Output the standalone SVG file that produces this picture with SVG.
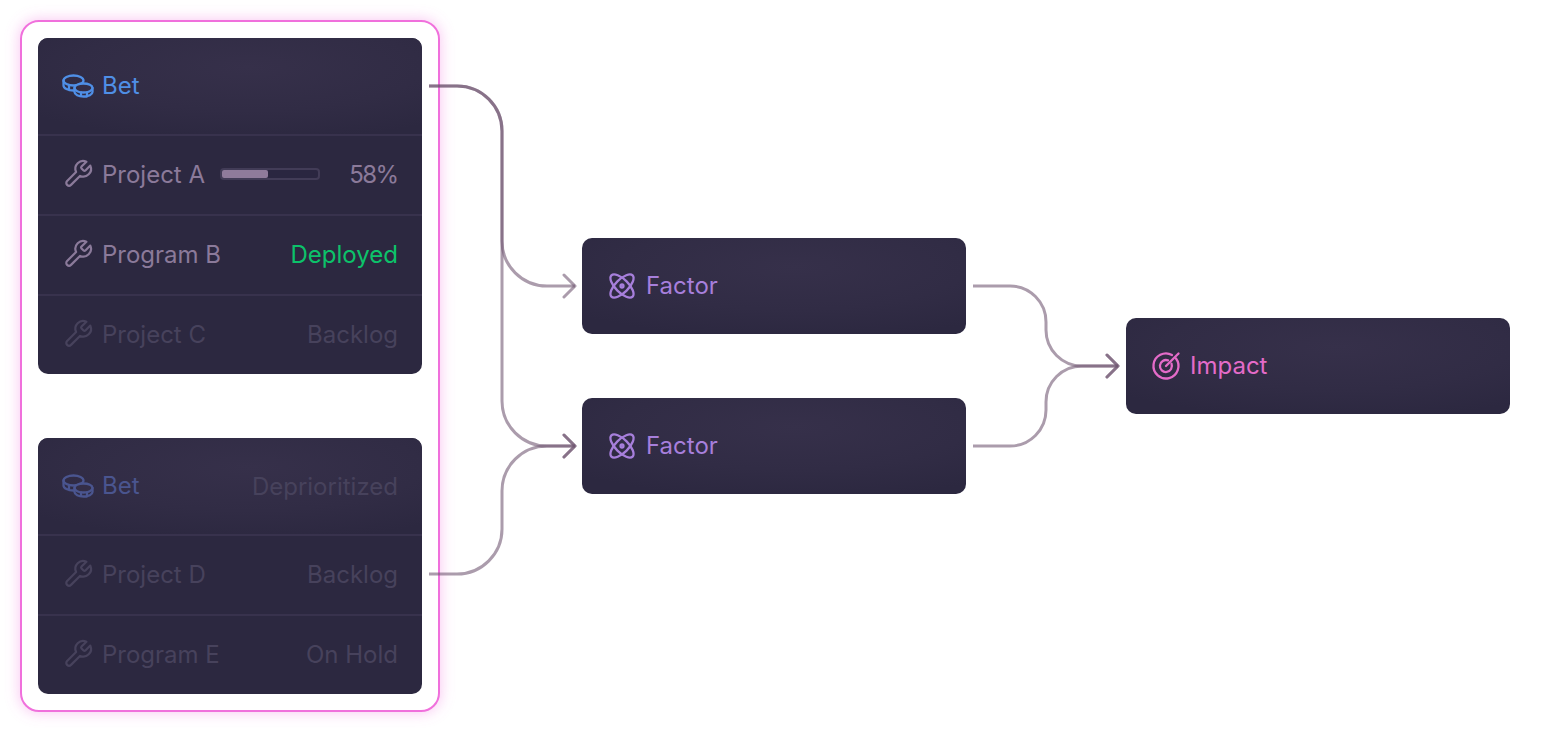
<svg xmlns="http://www.w3.org/2000/svg" width="1542" height="732" viewBox="0 0 1542 732">
<style>
text{font-family:"Inter","Liberation Sans",sans-serif;font-size:24px}
.end{text-anchor:end}
.lbl{fill:#8b7a9a}.dim{fill:#47425c}.blue{fill:#4f8fe6}.dblue{fill:#4a558f}.grn{fill:#0cc26a}.pur{fill:#a77fdc}.pnk{fill:#e46bc9}
.i{fill:none;stroke-width:2.300;stroke-linecap:round;stroke-linejoin:round}
.il{stroke:#8b7a9a}.id{stroke:#47425c}.ib{stroke:#4f8fe6}.idb{stroke:#4a558f}.ip{stroke:#a77fdc}.ik{stroke:#e46bc9}
.sep{stroke:#38324d;stroke-width:2}
.c{fill:none;stroke:#6f5470;stroke-opacity:.58;stroke-width:3;marker-end:url(#ah)}
</style>
<defs>
<radialGradient id="g" cx=".55" cy=".3" r=".75"><stop offset="0" stop-color="#36304a"/><stop offset=".6" stop-color="#312c45"/><stop offset="1" stop-color="#2c2840"/></radialGradient>
<filter id="glow" x="-10%" y="-10%" width="120%" height="120%"><feGaussianBlur stdDeviation="7"/></filter>
<marker id="ah" markerUnits="userSpaceOnUse" markerWidth="16" markerHeight="28" viewBox="-14 -14 16 28" refX="0" refY="0" orient="auto"><path d="M-11,-11L0,0L-11,11" fill="none" stroke="#6f5470" stroke-opacity=".58" stroke-width="3" stroke-linecap="round" stroke-linejoin="round"/></marker>
<symbol id="coins" overflow="visible"><ellipse cx="10.500" cy="5.500" rx="10" ry="5"/><path d="M.5 5.500v5c0 2.800 4.500 5 10 5M6 10v5M13 10.500v3"/><ellipse cx="20.500" cy="13" rx="9" ry="4.500" style="fill:#342e47"/><path d="M11.500 13v4c0 2.500 4 4.500 9 4.500s9-2 9-4.500v-4M18 17.500v4M24 17.500v4"/></symbol>
<symbol id="wrench" overflow="visible"><path transform="translate(-2.600 -2.600) scale(1.3)" stroke-width="1.700" d="M14.700 6.300a1 1 0 0 0 0 1.400l1.600 1.600a1 1 0 0 0 1.400 0l3.770-3.770a6 6 0 0 1-7.940 7.940l-6.910 6.910a2.120 2.120 0 0 1-3-3l6.910-6.910a6 6 0 0 1 7.940-7.940l-3.760 3.760z"/></symbol>
<symbol id="atom" overflow="visible"><ellipse rx="15" ry="6.500" transform="rotate(45)"/><ellipse rx="15" ry="6.500" transform="rotate(-45)"/><circle r="1.500"/></symbol>
<symbol id="target" overflow="visible"><path d="M10-7.500A12.500 12.500 0 1 1 6-11"/><path d="M5.500-2.200A6 6 0 1 1 2-5.600"/><path d="M0 0L12.500-12.500"/></symbol>
</defs>

<g id="group-frame">
<rect x="19" y="19" width="422" height="694" rx="20" fill="#f070dc" fill-opacity=".38" filter="url(#glow)"/>
<rect x="21" y="21" width="418" height="690" rx="18" fill="#fff" stroke="#f070dc" stroke-width="2"/>
</g>

<g id="card-top">
<rect x="38" y="38" width="384" height="336" rx="10" fill="#2c2840"/>
<path d="M38 135V48a10 10 0 0 1 10-10H412a10 10 0 0 1 10 10V135Z" fill="url(#g)"/>
<path class="sep" d="M38 135H422M38 215H422M38 295H422"/>
</g>
<g id="row-bet-1"><use href="#coins" x="63" y="75" class="i ib"/><text class="blue" x="102" y="94">Bet</text></g>
<g id="row-project-a"><use href="#wrench" x="65" y="161" class="i il"/><text class="lbl" x="102" y="183">Project A</text>
<rect x="221" y="169" width="98" height="10" rx="3" fill="#2a2640" stroke="#423c57" stroke-width="2"/><rect x="222" y="170" width="46" height="8" rx="2" fill="#8f7b9b"/>
<text class="lbl end" x="397.500" y="183" letter-spacing="-1.600">58%</text></g>
<g id="row-program-b"><use href="#wrench" x="65" y="241" class="i il"/><text class="lbl" x="102" y="263">Program B</text><text class="grn end" x="398" y="263">Deployed</text></g>
<g id="row-project-c"><use href="#wrench" x="65" y="321" class="i id"/><text class="dim" x="102" y="343">Project C</text><text class="dim end" x="398" y="343">Backlog</text></g>

<g id="card-bottom">
<rect x="38" y="438" width="384" height="256" rx="10" fill="#2c2840"/>
<path d="M38 535V448a10 10 0 0 1 10-10H412a10 10 0 0 1 10 10V535Z" fill="url(#g)"/>
<path class="sep" d="M38 535H422M38 615H422"/>
</g>
<g id="row-bet-2"><use href="#coins" x="63" y="475" class="i idb"/><text class="dblue" x="102" y="494">Bet</text><text class="dim end" x="398" y="495">Deprioritized</text></g>
<g id="row-project-d"><use href="#wrench" x="65" y="561" class="i id"/><text class="dim" x="102" y="583">Project D</text><text class="dim end" x="398" y="583">Backlog</text></g>
<g id="row-program-e"><use href="#wrench" x="65" y="641" class="i id"/><text class="dim" x="102" y="663">Program E</text><text class="dim end" x="398" y="663">On Hold</text></g>

<g id="connectors">
<path class="c" d="M429 86H457A45 45 0 0 1 502 131V241A45 45 0 0 0 547 286H575"/>
<path class="c" d="M429 86H457A45 45 0 0 1 502 131V401A45 45 0 0 0 547 446H575"/>
<path class="c" d="M429 574H457A45 45 0 0 0 502 529V491A45 45 0 0 1 547 446H575"/>
<path class="c" d="M973 286H1010A36 36 0 0 1 1046 322V330A36 36 0 0 0 1082 366H1118"/>
<path class="c" d="M973 446H1010A36 36 0 0 0 1046 410V402A36 36 0 0 1 1082 366H1118"/>
</g>

<g id="factor-1"><rect x="582" y="238" width="384" height="96" rx="10" fill="url(#g)"/><use href="#atom" x="622" y="286" class="i ip"/><text class="pur" x="646" y="294">Factor</text></g>
<g id="factor-2"><rect x="582" y="398" width="384" height="96" rx="10" fill="url(#g)"/><use href="#atom" x="622" y="446" class="i ip"/><text class="pur" x="646" y="454">Factor</text></g>
<g id="impact"><rect x="1126" y="318" width="384" height="96" rx="10" fill="url(#g)"/><use href="#target" x="1166" y="366" class="i ik"/><text class="pnk" x="1190" y="374">Impact</text></g>
</svg>
